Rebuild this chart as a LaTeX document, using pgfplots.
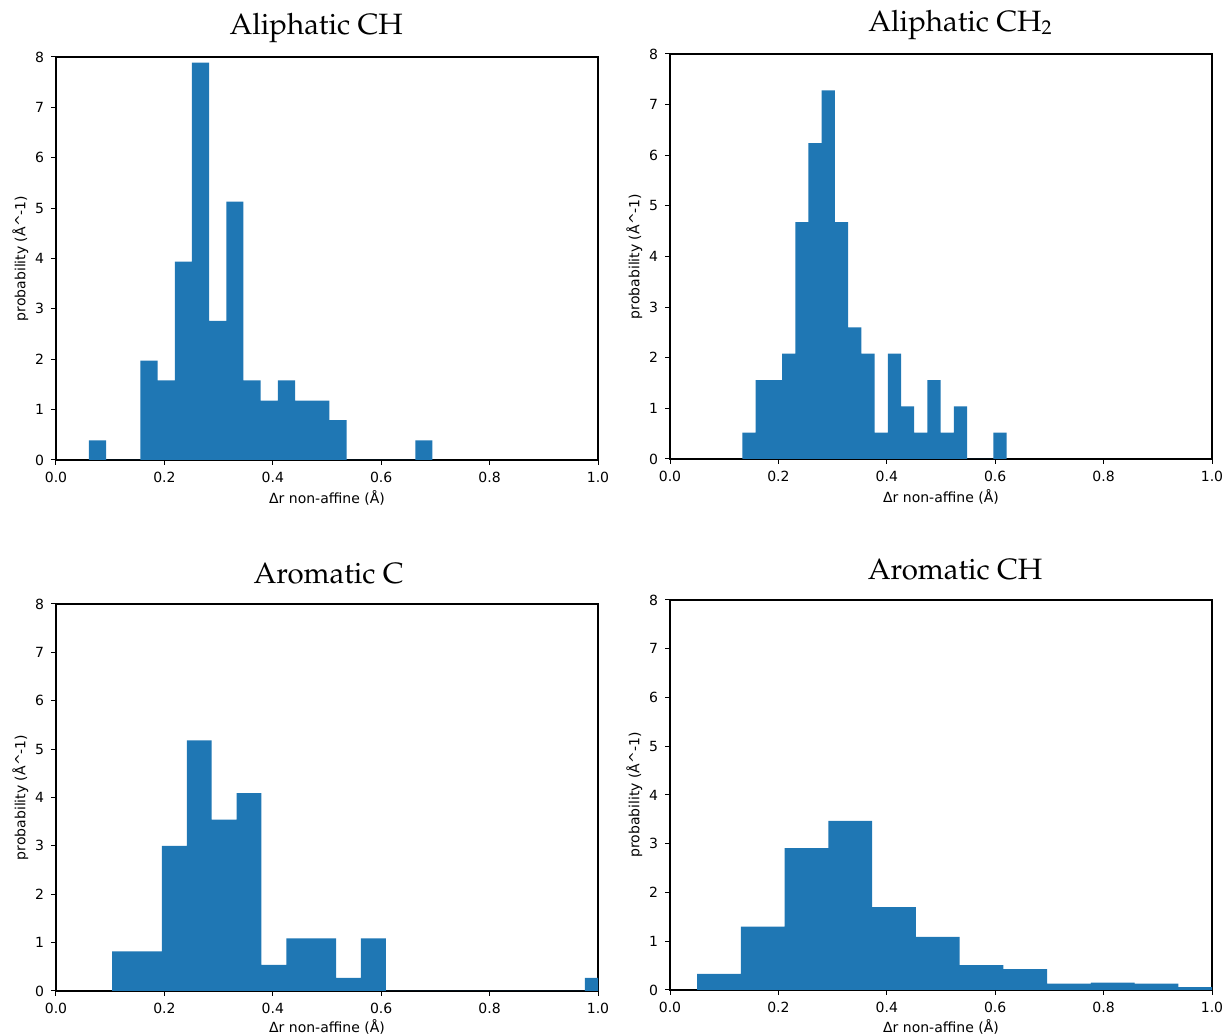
\documentclass[border=0pt]{standalone}
\usepackage[T1]{fontenc}
\usepackage{fontspec}
\setmainfont{DejaVu Sans}
\usepackage{pgfplots}
\pgfplotsset{compat=1.18}
\definecolor{mplblue}{HTML}{1F77B4}
\newcommand{\titlefont}{\usefont{T1}{ppl}{m}{n}\fontsize{14.7}{17}\selectfont}

\pgfplotsset{
  histo/.style={
    scale only axis, width=271pt, anchor=south west,
    xmin=0, xmax=1, ymin=0, ymax=8,
    xtick={0,0.2,0.4,0.6,0.8,1}, ytick={0,1,2,3,4,5,6,7,8},
    xtick pos=left, ytick pos=left, tick align=outside,
    major tick length=2.5pt,
    tick style={black, line width=0.5pt},
    axis line style={line width=0.6pt},
    tick label style={font=\fontsize{7}{8}\selectfont},
    /pgf/number format/assume math mode=true,
    xticklabel style={/pgf/number format/.cd, fixed, fixed zerofill, precision=1},
    label style={font=\fontsize{7}{8}\selectfont},
    xlabel={Δr non-affine (Å)},
    ylabel={probability (Å\textasciicircum-1)},
    xlabel style={at={(axis description cs:0.5,-0.094)}, anchor=center},
    ylabel style={at={(axis description cs:-0.066,0.5)}, anchor=center},
    title style={font=\titlefont, anchor=base, yshift=5pt},
  }
}

\begin{document}
\begin{tikzpicture}
\path[use as bounding box] (0,0) rectangle (614pt,518pt);

% Aliphatic CH
\begin{axis}[histo, at={(28pt,288pt)}, height=201.5pt,
  title={Aliphatic CH}, title style={at={(axis description cs:0.48,1)}}]
\addplot[ybar interval, fill=mplblue, draw=none] coordinates {
  (0.0606,0.39) (0.0923,0) (0.1240,0) (0.1557,1.97) (0.1874,1.58)
  (0.2191,3.94) (0.2508,7.89) (0.2825,2.76) (0.3142,5.13) (0.3459,1.58)
  (0.3776,1.18) (0.4093,1.58) (0.4410,1.18) (0.4727,1.18) (0.5044,0.79)
  (0.5361,0) (0.5678,0) (0.5995,0) (0.6312,0) (0.6629,0.39) (0.6946,0)
};
\end{axis}

% Aliphatic CH2
\begin{axis}[histo, at={(335pt,288.5pt)}, height=202.5pt,
  title={Aliphatic CH{\fontsize{10}{10}\selectfont\raisebox{-1.5pt}{2}}},
  title style={at={(axis description cs:0.535,1)}}]
\addplot[ybar interval, fill=mplblue, draw=none] coordinates {
  (0.1336,0.52) (0.1580,1.56) (0.1824,1.56) (0.2067,2.08) (0.2311,4.68)
  (0.2555,6.24) (0.2799,7.28) (0.3043,4.68) (0.3286,2.60) (0.3530,2.08)
  (0.3774,0.52) (0.4018,2.08) (0.4262,1.04) (0.4505,0.52) (0.4749,1.56)
  (0.4993,0.52) (0.5237,1.04) (0.5481,0) (0.5724,0) (0.5968,0.52) (0.6212,0)
};
\end{axis}

% Aromatic C
\begin{axis}[histo, at={(28pt,22.5pt)}, height=193.5pt,
  title={Aromatic C}, title style={at={(axis description cs:0.503,1)}, yshift=-1pt}]
\addplot[ybar interval, fill=mplblue, draw=none] coordinates {
  (0.1036,0.82) (0.1495,0.82) (0.1954,3.00) (0.2413,5.18) (0.2872,3.54)
  (0.3331,4.09) (0.3790,0.54) (0.4249,1.09) (0.4708,1.09) (0.5167,0.27)
  (0.5626,1.09) (0.6085,0) (0.6544,0) (0.7003,0) (0.7462,0)
  (0.7921,0) (0.8380,0) (0.8839,0) (0.9298,0) (0.9757,0.27) (1.0216,0)
};
\end{axis}

% Aromatic CH
\begin{axis}[histo, at={(335pt,23pt)}, height=195pt,
  title={Aromatic CH}, title style={at={(axis description cs:0.526,1)}, yshift=-1pt}]
\addplot[ybar interval, fill=mplblue, draw=none] coordinates {
  (0.0502,0.33) (0.1309,1.30) (0.2116,2.91) (0.2923,3.47) (0.3730,1.70)
  (0.4537,1.09) (0.5344,0.51) (0.6151,0.43) (0.6958,0.13) (0.7765,0.15)
  (0.8572,0.13) (0.9379,0.06) (1.0186,0)
};
\end{axis}
\end{tikzpicture}
\end{document}
